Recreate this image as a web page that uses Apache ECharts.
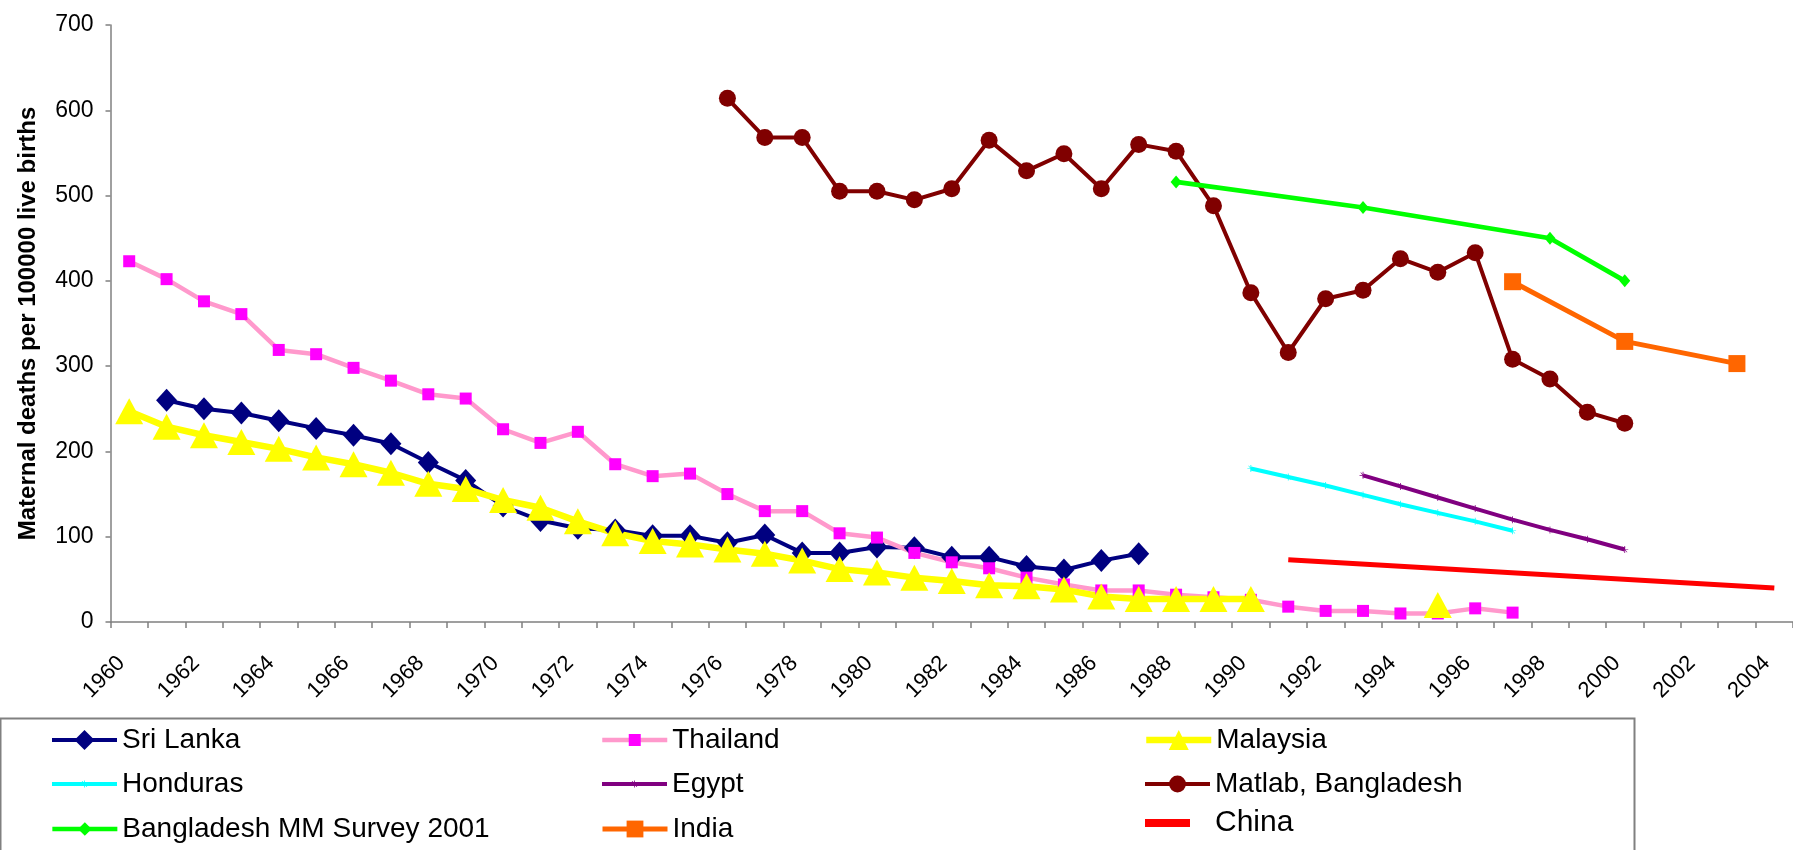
<!DOCTYPE html>
<html><head><meta charset="utf-8">
<script src="https://cdn.jsdelivr.net/npm/echarts@6/dist/echarts.min.js"></script>
<style>html,body{margin:0;padding:0;background:#fff}#c{width:1793px;height:850px}</style>
</head><body><div id="c"></div>
<script>
// ---- data ----
const years = ['1960','1961','1962','1963','1964','1965','1966','1967','1968','1969',
  '1970','1971','1972','1973','1974','1975','1976','1977','1978','1979',
  '1980','1981','1982','1983','1984','1985','1986','1987','1988','1989',
  '1990','1991','1992','1993','1994','1995','1996','1997','1998','1999',
  '2000','2001','2002','2003','2004'];
const yTicks = [0,100,200,300,400,500,600,700];

const sriLankaStart = 1961;
const sriLanka = [260,250,245,236,227,219,209,187,166,136,119,110,108,101,101,93,102,81,81,88,87,76,76,65,61,72,80];

const thailandStart = 1960;
const thailand = [423,402,376,361,319,314,298,283,267,262,226,210,223,185,171,174,150,130,130,104,99,81,70,63,52,44,37,37,32,29,26,18,13,13,10,10,16,11];

const malaysiaStart = 1960;
const malaysia = [247,229,219,211,203,193,185,175,162,156,143,134,118,104,95,91,85,80,72,62,58,52,48,43,42,38,30,27,27,27,27];
const malaysiaExtra = [[1995,20]];

const hondurasStart = 1990;
const honduras = [180,170,160,149,138,128,118,107];

const egyptStart = 1993;
const egypt = [172,159,146,133,120,108,97,85];

const matlabStart = 1976;
const matlab = [614,568,568,505,505,495,508,565,529,549,508,560,552,488,386,316,379,389,426,410,433,308,285,246,233];

const bangladeshSurvey = [[1988,516],[1993,486],[1998,450],[2000,400]];
const india = [[1997,399],[2000,329],[2003,303]];
const china = [[1991,73],[2004,40]];

// ---- helpers ----
function blank(){ return years.map(function(){ return null; }); }
function fromStart(start, vals){
  const a = blank();
  vals.forEach(function(v,i){ a[years.indexOf(String(start+i))] = v; });
  return a;
}
function fromPairs(pairs, base){
  const a = base || blank();
  pairs.forEach(function(p){ a[years.indexOf(String(p[0]))] = p[1]; });
  return a;
}

const FONT = '"Liberation Sans", Arial, Helvetica, sans-serif';
const tinyMark = 'path://M0,4.5L9,4.5L9,5.5L0,5.5Z M4,0L5,0L5,10L4,10Z M1,1L2,1L8,9L7,9Z';

function lineSeries(name, data, opts){
  return {
    name: name, type: 'line', data: data,
    symbol: opts.symbol, symbolSize: opts.size,
    connectNulls: opts.connect !== false,
    showSymbol: opts.symbol !== 'none',
    showAllSymbol: true,
    lineStyle: { color: opts.line, width: opts.width },
    itemStyle: { color: opts.fill || opts.line },
    emphasis: { disabled: true },
    animation: false,
    z: 2
  };
}

const series = [
  lineSeries('Sri Lanka', fromStart(sriLankaStart, sriLanka), {line:'#000080', width:4, symbol:'diamond', size:[21,23]}),
  lineSeries('Thailand', fromStart(thailandStart, thailand), {line:'#FF99CC', fill:'#FF00FF', width:4.5, symbol:'rect', size:12}),
  lineSeries('Malaysia', fromPairs(malaysiaExtra, fromStart(malaysiaStart, malaysia)), {line:'#FFFF00', width:6.5, symbol:'triangle', size:[28,26], connect:false}),
  lineSeries('Honduras', fromStart(hondurasStart, honduras), {line:'#00FFFF', width:4, symbol:tinyMark, size:7}),
  lineSeries('Egypt', fromStart(egyptStart, egypt), {line:'#800080', width:4, symbol:tinyMark, size:7}),
  lineSeries('Matlab, Bangladesh', fromStart(matlabStart, matlab), {line:'#800000', width:4, symbol:'circle', size:17}),
  lineSeries('Bangladesh MM Survey 2001', fromPairs(bangladeshSurvey), {line:'#00FF00', width:4.7, symbol:'diamond', size:[11,13]}),
  lineSeries('India', fromPairs(india), {line:'#FF6600', width:5, symbol:'rect', size:17}),
  lineSeries('China', fromPairs(china), {line:'#FF0000', width:5, symbol:'none', size:0})
];

// ---- legend layout (positions only) ----
const colX = [50, 600, 1143];
const rowY = [740, 784, 829];
const legendItems = [
  ['Sri Lanka',0,0,25], ['Thailand',1,0,15], ['Malaysia',2,0,25],
  ['Honduras',0,1,9], ['Egypt',1,1,9], ['Matlab, Bangladesh',2,1,21],
  ['Bangladesh MM Survey 2001',0,2,17], ['India',1,2,21]
];
const legends = legendItems.map(function(it){
  return {
    data: [it[0]], left: colX[it[1]], top: rowY[it[2]] - 14,
    orient: 'horizontal', padding: 0, itemWidth: 65, itemHeight: it[3],
    selectedMode: false,
    lineStyle: { width: 'inherit' },
    textStyle: { fontSize: 28, lineHeight: 28, color: '#000', fontFamily: FONT }
  };
});
legends.push({
  data: [{ name: 'China', icon: 'rect' }], left: 1145, top: 823 - 15,
  orient: 'horizontal', padding: 0, itemWidth: 45, itemHeight: 8,
  selectedMode: false,
  textStyle: { fontSize: 30, lineHeight: 30, color: '#000', fontFamily: FONT, padding: [0,0,0,20] }
});

const chart = echarts.init(document.getElementById('c'), null, { renderer: 'canvas' });
chart.setOption({
  backgroundColor: '#ffffff',
  animation: false,
  textStyle: { fontFamily: FONT },
  grid: { left: 110.5, top: 25, width: 1687.5, height: 597, containLabel: false },
  xAxis: {
    type: 'category', data: years, boundaryGap: true,
    axisLine: { show: true, lineStyle: { color: '#808080', width: 1.5 } },
    axisTick: { show: true, interval: 0, length: 6, inside: false, lineStyle: { color: '#808080', width: 1.5 } },
    axisLabel: { interval: 1, rotate: 45, fontSize: 22, color: '#000', margin: 30, padding: [0, 11, 0, 0], fontFamily: FONT },
    splitLine: { show: false }
  },
  yAxis: {
    type: 'value', min: yTicks[0], max: yTicks[yTicks.length-1], interval: 100,
    name: 'Maternal deaths per 100000 live births',
    nameLocation: 'middle', nameGap: 70,
    nameTextStyle: { fontSize: 24, fontWeight: 'bold', color: '#000', fontFamily: FONT },
    axisLine: { show: true, lineStyle: { color: '#808080', width: 1.5 } },
    axisTick: { show: true, length: 5, lineStyle: { color: '#808080', width: 1.5 } },
    axisLabel: { fontSize: 23, color: '#000', margin: 17, fontFamily: FONT },
    splitLine: { show: false }
  },
  legend: legends,
  graphic: [{
    type: 'rect', left: -2, top: 716, silent: true, z: -1,
    shape: { width: 1634, height: 200 },
    style: { fill: 'none', stroke: '#808080', lineWidth: 2 }
  }],
  series: series
});
</script>
</body></html>
